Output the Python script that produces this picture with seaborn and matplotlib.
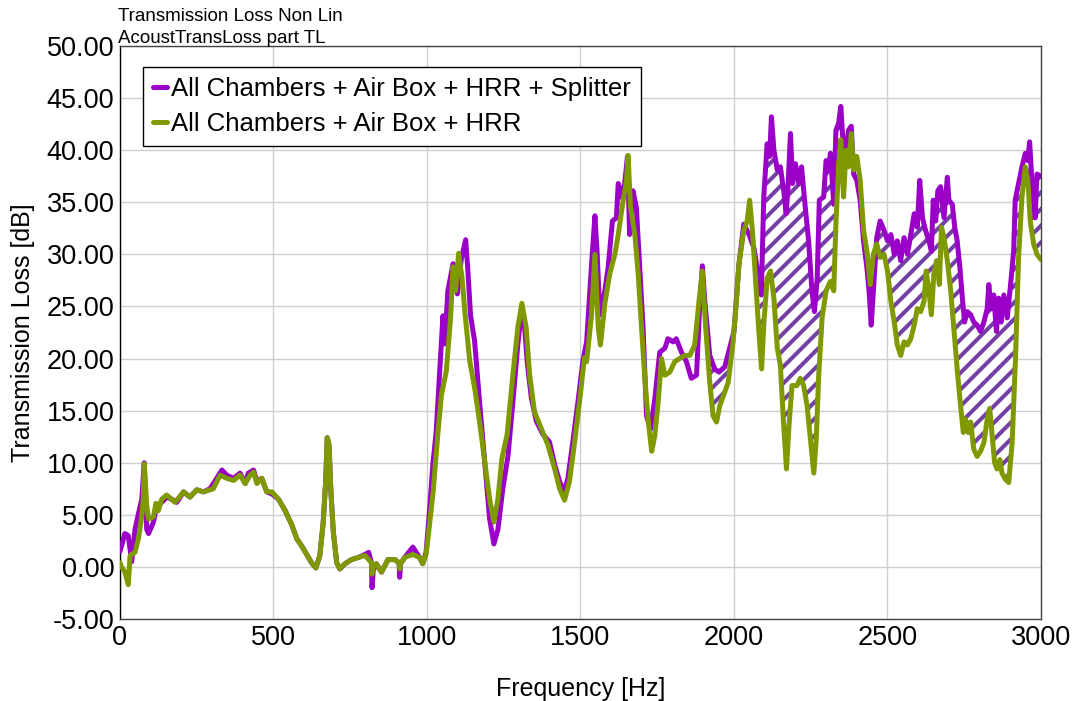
import matplotlib
matplotlib.use('Agg')
import matplotlib.pyplot as plt
import seaborn as sns
import numpy as np

# Data
freq_split = [0, 5, 16, 27, 38, 49, 60, 71, 79, 87, 93, 109, 120, 136, 152, 168, 185, 207, 228, 250, 272, 293,
              315, 332, 348, 370, 391, 408, 418, 435, 446, 462, 478, 495, 516, 538, 560, 576, 592, 608, 624, 638,
              651, 662, 670, 675, 681, 687, 695, 706, 716, 733, 754, 776, 798, 810, 819, 821, 825, 835, 852, 873,
              895, 909, 911, 914, 927, 954, 976, 986, 997, 1008, 1019, 1030, 1041, 1052, 1058, 1068, 1085, 1099,
              1112, 1126, 1133, 1142, 1155, 1171, 1188, 1204, 1218, 1231, 1247, 1264, 1280, 1296, 1309, 1318, 1327,
              1340, 1356, 1378, 1399, 1416, 1432, 1446, 1459, 1475, 1492, 1508, 1520, 1536, 1547, 1554, 1563, 1574,
              1590, 1604, 1617, 1623, 1633, 1644, 1653, 1660, 1671, 1682, 1693, 1704, 1715, 1728, 1742, 1758, 1775,
              1785, 1802, 1812, 1829, 1845, 1861, 1878, 1888, 1897, 1905, 1921, 1937, 1951, 1970, 1986, 2000, 2016,
              2032, 2049, 2065, 2081, 2089, 2097, 2108, 2116, 2122, 2130, 2141, 2151, 2162, 2170, 2176, 2184, 2191,
              2200, 2211, 2220, 2230, 2243, 2254, 2262, 2271, 2278, 2292, 2300, 2308, 2314, 2325, 2332, 2341, 2348,
              2354, 2362, 2373, 2382, 2390, 2400, 2411, 2422, 2433, 2440, 2447, 2454, 2465, 2476, 2489, 2500, 2511,
              2522, 2532, 2543, 2554, 2565, 2576, 2587, 2597, 2605, 2614, 2624, 2635, 2643, 2649, 2657, 2664, 2673,
              2684, 2695, 2700, 2711, 2719, 2727, 2736, 2743, 2751, 2760, 2771, 2781, 2792, 2803, 2814, 2825, 2830,
              2838, 2846, 2855, 2862, 2870, 2879, 2890, 2900, 2911, 2916, 2927, 2938, 2949, 2957, 2963, 2971, 2981,
              2987, 3000]
tl_split = [1.5, 2.0, 3.2, 3.0, 0.5, 3.6, 5.1, 6.5, 10.0, 3.6, 3.2, 4.3, 5.9, 6.2, 6.7, 6.5, 6.2, 7.2, 6.7, 7.4, 7.2,
            7.5, 8.5, 9.3, 8.8, 8.5, 9.0, 8.0, 9.0, 9.3, 8.2, 8.5, 7.2, 7.0, 6.5, 5.4, 4.0, 2.7, 2.0, 1.2, 0.4, -0.1,
            1.1, 4.3, 8.2, 12.4, 11.7, 7.2, 3.3, 0.4, -0.2, 0.3, 0.7, 0.9, 1.2, 1.4, 0.4, -2.0, -0.3, 0.3, -0.5, 0.7,
            0.7, 0.4, -1.0, 0.3, 0.9, 1.9, 0.9, 0.3, 1.4, 5.3, 9.8, 13.0, 18.5, 24.1, 21.4, 26.5, 29.1, 26.2,
            29.6, 31.4, 28.5, 24.1, 21.7, 15.9, 10.1, 4.6, 2.2, 3.6, 7.5, 10.7, 15.9, 21.4, 24.9, 23.0, 19.5,
            16.2, 14.0, 12.7, 12.0, 9.8, 8.2, 7.2, 8.5, 12.0, 15.9, 19.8, 21.6, 29.0, 33.7, 30.3, 24.2, 25.5,
            28.7, 33.2, 33.5, 36.8, 35.5, 36.8, 39.4, 31.9, 36.1, 34.5, 28.7, 22.9, 14.5, 13.2, 16.1, 20.6, 21.0,
            21.9, 21.6, 21.9, 20.6, 19.7, 18.1, 18.4, 24.8, 28.9, 25.5, 20.3, 19.0, 18.7, 19.2, 21.0, 22.6, 29.0,
            32.9, 31.9, 30.6, 27.7, 26.1, 35.5, 40.6, 39.4, 43.2, 40.0, 38.1, 38.4, 36.1, 33.9, 36.5, 41.6, 36.8,
            38.7, 36.8, 38.4, 35.2, 31.3, 26.5, 24.5, 27.7, 35.2, 35.5, 39.0, 38.1, 39.7, 34.8, 41.9, 42.6, 44.2,
            41.3, 39.4, 41.9, 42.3, 37.7, 37.1, 35.2, 31.3, 28.7, 26.5, 23.2, 26.5, 31.6, 33.2, 32.3, 31.3, 31.9,
            30.0, 31.3, 29.4, 31.6, 30.0, 31.9, 33.9, 32.6, 37.1, 33.5, 32.3, 31.3, 30.3, 35.2, 33.2, 36.1, 36.5,
            33.5, 37.4, 35.2, 34.8, 32.6, 31.3, 28.7, 26.1, 23.5, 24.5, 24.2, 23.5, 23.2, 22.6, 23.5, 24.8, 27.1,
            24.8, 26.1, 22.6, 25.8, 23.5, 26.1, 23.9, 26.8, 30.3, 35.2, 36.8, 38.4, 39.7, 39.0, 40.8, 36.8, 33.5,
            37.7, 37.5]

freq_hrr = [0, 5, 16, 27, 33, 49, 60, 71, 76, 79, 87, 93, 109, 117, 125, 136, 152, 179, 207, 228, 250, 272, 304,
            326, 348, 370, 391, 408, 424, 435, 446, 462, 478, 495, 516, 538, 560, 576, 592, 608, 624, 638, 651,
            662, 670, 675, 681, 687, 695, 706, 716, 733, 754, 776, 798, 819, 821, 825, 835, 852, 873, 895, 909,
            911, 914, 927, 954, 976, 986, 997, 1008, 1020, 1036, 1047, 1063, 1077, 1085, 1093, 1103, 1114, 1123,
            1139, 1155, 1171, 1188, 1204, 1218, 1231, 1244, 1261, 1280, 1296, 1309, 1323, 1334, 1350, 1372, 1394,
            1416, 1432, 1448, 1464, 1481, 1497, 1513, 1520, 1536, 1547, 1558, 1565, 1579, 1595, 1612, 1623, 1639,
            1650, 1655, 1663, 1677, 1688, 1699, 1709, 1720, 1732, 1742, 1753, 1764, 1775, 1791, 1807, 1823, 1840,
            1856, 1872, 1886, 1897, 1908, 1921, 1932, 1943, 1954, 1964, 1981, 1997, 2008, 2016, 2032, 2043, 2051,
            2060, 2070, 2081, 2090, 2097, 2108, 2119, 2130, 2141, 2151, 2162, 2171, 2179, 2189, 2205, 2216, 2227,
            2238, 2249, 2260, 2268, 2276, 2287, 2300, 2314, 2325, 2332, 2341, 2348, 2357, 2365, 2373, 2382, 2390,
            2400, 2411, 2422, 2433, 2444, 2454, 2465, 2476, 2489, 2500, 2511, 2522, 2532, 2543, 2554, 2565, 2576,
            2587, 2597, 2608, 2619, 2626, 2635, 2643, 2651, 2660, 2669, 2676, 2684, 2695, 2706, 2716, 2727, 2738,
            2747, 2754, 2763, 2771, 2781, 2792, 2803, 2814, 2825, 2833, 2841, 2849, 2857, 2866, 2873, 2884, 2895,
            2906, 2917, 2927, 2938, 2949, 2958, 2965, 2976, 2987, 3000]
tl_hrr = [0.4, 0.0, -0.5, -1.7, 1.1, 1.4, 2.7, 4.9, 6.5, 9.9, 5.9, 4.6, 4.8, 6.1, 5.4, 6.5, 6.9, 6.2, 7.2, 6.7, 7.4,
          7.2, 7.5, 8.8, 8.5, 8.3, 8.8, 8.0, 8.8, 9.1, 8.0, 8.5, 7.2, 7.2, 6.5, 5.4, 4.0, 2.7, 2.0, 1.2, 0.4, -0.1,
          1.1, 4.3, 8.2, 12.4, 11.7, 7.2, 3.3, 0.4, -0.2, 0.3, 0.7, 0.9, 1.1, 0.4, -0.7, 0.0, 0.3, -0.5, 0.7, 0.7,
          0.4, -0.2, 0.3, 0.9, 1.2, 0.9, 0.3, 1.2, 4.0, 7.2, 13.0, 16.5, 18.8, 24.0, 28.8, 26.5, 30.1, 27.8, 24.6,
          19.8, 17.2, 14.0, 10.1, 6.5, 4.3, 6.5, 10.4, 12.7, 18.5, 23.0, 25.3, 23.0, 18.5, 14.9, 13.3, 11.7,
          9.4, 7.5, 6.4, 8.2, 12.0, 15.9, 20.1, 19.7, 24.2, 30.0, 22.9, 21.3, 25.2, 28.1, 30.0, 31.9, 35.2,
          37.1, 39.5, 34.5, 31.9, 28.1, 22.9, 18.4, 14.2, 11.1, 12.6, 15.8, 20.0, 18.4, 18.7, 19.7, 20.0, 20.3,
          20.3, 21.3, 25.5, 28.4, 22.9, 17.7, 14.5, 13.9, 15.5, 16.3, 17.7, 21.6, 25.5, 29.0, 32.3, 33.2, 35.2,
          32.3, 27.7, 22.6, 19.0, 23.2, 27.7, 28.4, 25.8, 21.0, 19.4, 13.5, 9.4, 13.5, 17.4, 17.4, 18.1, 17.4,
          15.5, 12.3, 9.0, 12.3, 18.4, 23.9, 26.5, 27.4, 26.5, 32.9, 38.7, 41.0, 35.5, 40.0, 38.4, 41.6, 38.1,
          39.4, 37.1, 32.3, 30.3, 27.1, 30.0, 31.0, 29.7, 30.0, 28.4, 25.5, 23.5, 21.3, 20.3, 21.6, 21.3, 21.9,
          23.2, 24.8, 24.5, 25.5, 28.4, 26.5, 24.2, 28.1, 29.4, 27.1, 32.6, 31.6, 29.4, 26.5, 22.9, 19.0, 15.5,
          12.9, 14.2, 12.9, 13.9, 11.3, 10.6, 11.1, 11.9, 14.2, 15.2, 12.6, 10.0, 9.4, 10.3, 9.0, 8.4, 8.1,
          11.9, 20.0, 29.7, 35.5, 38.4, 36.8, 33.2, 31.0, 30.0, 29.5]

x_ticks = [0, 500, 1000, 1500, 2000, 2500, 3000]
y_ticks = [-5, 0, 5, 10, 15, 20, 25, 30, 35, 40, 45, 50]

label_split = 'All Chambers + Air Box + HRR + Splitter'
label_hrr = 'All Chambers + Air Box + HRR'

purple = '#9a00c8'
olive = '#7f9a00'

sns.set_style('whitegrid')
plt.rcParams['font.family'] = ['Liberation Sans', 'DejaVu Sans']
plt.rcParams['text.color'] = 'black'
plt.rcParams['axes.labelcolor'] = 'black'
plt.rcParams['hatch.linewidth'] = 2.9

fig = plt.figure(figsize=(10.83, 7.01), dpi=100)
ax = fig.add_axes([0.1108, 0.117, 0.8504, 0.8174])

# hatched band where the splitter curve sits above the other one
grid = np.union1d(freq_split, freq_hrr)
top = np.interp(grid, freq_split, tl_split)
bot = np.interp(grid, freq_hrr, tl_hrr)
ax.fill_between(grid, bot, top, where=(grid > 1920) & (top - bot > 1.5), interpolate=True,
                facecolor='white', edgecolor='#7440a6', hatch='//', linewidth=0, zorder=1)

sns.lineplot(x=freq_split, y=tl_split, color=purple, linewidth=3.6, label=label_split, ax=ax, zorder=3)
sns.lineplot(x=freq_hrr, y=tl_hrr, color=olive, linewidth=3.6, label=label_hrr, ax=ax, zorder=4)

ax.set_xlim(0, 3000)
ax.set_ylim(-5, 50)
ax.set_xticks(x_ticks)
ax.set_yticks(y_ticks)
ax.set_yticklabels([f'{v:.2f}' for v in y_ticks])
ax.tick_params(axis='both', labelsize=19.5, length=0, pad=4, colors='black')
ax.set_xlabel('Frequency [Hz]', fontsize=18, labelpad=19)
ax.set_ylabel('Transmission Loss [dB]', fontsize=18, labelpad=8)
ax.grid(True, color='#cfcfcf', linewidth=1)
for side in ['left', 'bottom', 'top', 'right']:
    ax.spines[side].set_color('#444444')
    ax.spines[side].set_linewidth(1)
ax.spines['left'].set_color('black')

leg = ax.legend(loc='upper left', bbox_to_anchor=(0.025, 0.963), borderaxespad=0, fontsize=18.5,
                handlelength=0.55, handletextpad=0.12, labelspacing=0.4, borderpad=0.4,
                fancybox=False, framealpha=1, edgecolor='black')
leg.get_frame().set_linewidth(1)
for t in leg.get_texts():
    t.set_color('black')

fig.text(0.109, 0.977, 'Transmission Loss Non Lin', fontsize=13.5, va='center')
fig.text(0.109, 0.945, 'AcoustTransLoss part TL', fontsize=13.5, va='center')

fig.savefig('out.png', dpi=100)
